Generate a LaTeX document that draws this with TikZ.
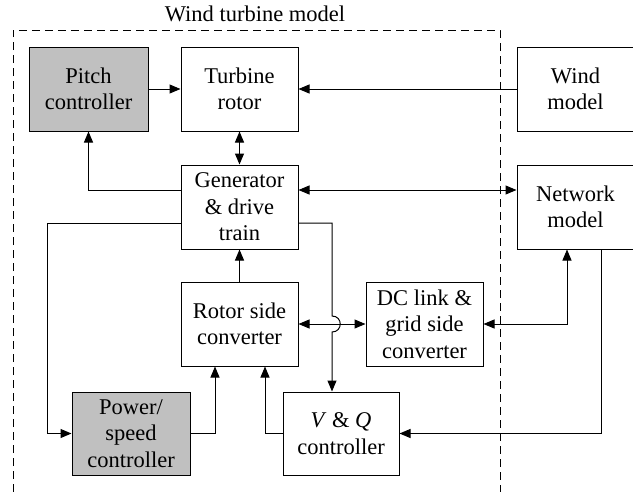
\documentclass[tikz,border=0pt]{standalone}
\usepackage{fontspec}
\setmainfont{Liberation Serif}
\usetikzlibrary{arrows.meta}
\begin{document}
\begin{tikzpicture}[x=1pt,y=-1pt,
  box/.style={draw,line width=1pt,inner sep=0pt,align=center,
    font=\rmfamily\fontsize{22.5}{26.5}\selectfont},
  gray/.style={fill={rgb,255:red,192;green,192;blue,192}},
  conn/.style={line width=1pt},
  >={Triangle[length=11pt,width=9pt]}]
\useasboundingbox (0,0) rectangle (633,491);
\clip (0,0) rectangle (633,491);
% dashed frame
\coordinate (fa) at (13,492);
\coordinate (fb) at (13,30);
\coordinate (fc) at (500,30);
\coordinate (fd) at (500,492);
\draw[line width=1pt,dash pattern=on 8pt off 5pt] (fa) -- (fb) -- (fc) -- (fd);
\node[font=\rmfamily\fontsize{22.5}{26.5}\selectfont] (title) at (255,14) {Wind turbine model};
% boxes
\node[box,gray,minimum width=119pt,minimum height=84pt] (pitch) at (88.5,89) {Pitch\\controller};
\node[box,minimum width=117pt,minimum height=84pt] (rotor) at (239.5,89) {Turbine\\rotor};
\node[box,minimum width=117pt,minimum height=84pt] (wind) at (575.5,89) {Wind\\model};
\node[box,minimum width=117pt,minimum height=84pt] (gen) at (239.5,207) {Generator\\\& drive\\train};
\node[box,minimum width=117pt,minimum height=84pt] (net) at (575.5,207) {Network\\model};
\node[box,minimum width=117pt,minimum height=84pt] (rsc) at (239.5,324) {Rotor side\\converter};
\node[box,minimum width=117pt,minimum height=84pt] (dc) at (424.5,324) {DC link \&\\grid side\\converter};
\node[box,gray,minimum width=118pt,minimum height=83pt] (psc) at (131,433.5) {Power/\\speed\\controller};
\node[box,minimum width=116pt,minimum height=83pt] (vq) at (341,433.5) {\textit{V} \& \textit{Q}\\controller};
% helper coordinates
\coordinate (c1) at (47,223);
\coordinate (c2) at (332,223);
\coordinate (h1) at (332,316);
\coordinate (h2) at (332,332);
\coordinate (k1) at (343,316);
\coordinate (k2) at (343,332);
\coordinate (x1) at (215,0);
\coordinate (x2) at (265,0);
\coordinate (x3) at (567,0);
\coordinate (x4) at (601,0);
% connectors
\draw[conn,->] (pitch) -- (rotor);
\draw[conn,->] (wind) -- (rotor);
\draw[conn,<->] (rotor) -- (gen);
\draw[conn,->] ([yshift=17pt]gen.west) -| (pitch.south);
\draw[conn,<->] ([yshift=17pt]gen.east) -- ([yshift=17pt]net.west);
\draw[conn,->] ([yshift=-16pt]gen.west) -- (c1) |- (psc.west);
\draw[conn,->] ([yshift=-16pt]gen.east) -- (c2) -- (h1) .. controls (k1) and (k2) .. (h2) -- (h2 |- vq.north);
\draw[conn,->] (rsc) -- (gen);
\draw[conn,<->] (rsc) -- (dc);
\draw[conn,->] (psc.east) -| (x1 |- rsc.south);
\draw[conn,->] (vq.west) -| (x2 |- rsc.south);
\draw[conn,<->] (x3 |- net.south) |- (dc.east);
\draw[conn,->] (x4 |- net.south) |- (vq.east);
\end{tikzpicture}
\end{document}
